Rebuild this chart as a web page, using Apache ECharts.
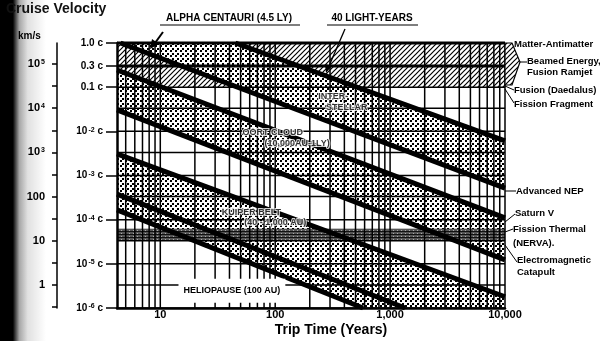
<!DOCTYPE html>
<html><head><meta charset="utf-8">
<script src="https://cdn.jsdelivr.net/npm/echarts@6/dist/echarts.min.js"></script>
<style>html,body{margin:0;padding:0;background:#fff}#c{width:612px;height:341px}</style>
</head><body><div id="c"></div><script>
// ---------------- data ----------------
const T_MIN = 4.2, T_MAX = 10000;          // trip time, years
const V_MIN = 1e-6, V_MAX = 1;             // cruise velocity, fraction of c
const C_KMS = 3e5;                         // km/s per c

const cTickValues = [1, 0.3, 0.1, 1e-2, 1e-3, 1e-4, 1e-5, 1e-6];
const cTickLabels = ['1.0 c', '0.3 c', '0.1 c', '10{s|-2} c', '10{s|-3} c', '10{s|-4} c', '10{s|-5} c', '10{s|-6} c'];
const kmsLabelValues = [1e5, 1e4, 1e3, 100, 10, 1];
const kmsLabels = ['10{s|5}', '10{s|4}', '10{s|3}', '100', '10', '1'];
const kmsTickValues = [0.316, 1, 3.16, 10, 31.6, 100, 316, 1000, 3162, 10000, 31623, 100000, 316228];
const xLabelValues = [10, 100, 1000, 10000];
const xLabels = ['10', '100', '1,000', '10,000'];
const xGridValues = [5,6,7,8,9,10,20,30,40,50,60,70,80,90,100,200,300,400,500,600,700,800,900,1000,2000,3000,4000,5000,6000,7000,8000,9000,10000];
const hGridC = [1, 0.3, 0.1, 0.01, 1e-3, 1e-4, 1e-5, 1e-6];
const hGridKms = [1e4, 1e3, 100, 10, 1];

// destination distance lines: [years, c] start / end as drawn
const lineNames = ['40 LY', '4.5 LY', '1 LY', '10,000 AU', '1,000 AU', '100 AU', '40 AU'];
const lineStart = [[45, 1], [4.5, 1], [4.2, 0.245], [4.2, 0.0305], [4.2, 3.1e-3], [4.2, 3.8e-4], [4.2, 1.66e-4]];
const lineEnd   = [[10000, 6.1e-3], [10000, 5.2e-4], [10000, 1.1e-4], [10000, 1.23e-5], [10000, 1.8e-6], [1350, 1e-6], [582, 1e-6]];

// destination regions (dotted): upper line / lower line
const regionNames = ['Interstellar', 'Oort Cloud', 'Kuiper Belt'];
const regionUpper = ['40 LY', '1 LY', '1,000 AU'];
const regionLower = ['4.5 LY', '10,000 AU', '40 AU'];

// propulsion velocity bands (hatched) [low, high] in c
const propNames = ['Matter-Antimatter', 'Beamed Energy, Fusion Ramjet'];
const propLow  = [0.3, 0.1];
const propHigh = [1, 0.3];
const nervaLow = 3.3e-5, nervaHigh = 6.2e-5;   // Fission Thermal (NERVA) band

// in-plot labels
const plotLabelText = ['INTER-', 'STELLAR', 'OORT CLOUD', '(10,000AU-1LY)', 'KUIPER BELT', '(40 - 1,000 AU)'];
const plotLabelT = [320, 420, 95, 155, 62, 100];
const plotLabelV = [0.063, 0.035, 0.0096, 5.3e-3, 1.45e-4, 8.5e-5];
const helioLabel = 'HELIOPAUSE (100 AU)';
const helioLabelPos = [42, 2.45e-6];

// ---------------- helpers ----------------
const FONT = '"Liberation Sans", Arial, Helvetica, sans-serif';
function makeDots(){
  const c = document.createElement('canvas'); c.width = 5; c.height = 5;
  const g = c.getContext('2d'); g.fillStyle = '#fff'; g.fillRect(0,0,5,5);
  g.fillStyle = '#000'; g.fillRect(0,0,2,2); g.fillRect(2,3,2,2);
  return c;
}
function makeHatch(){
  const n = 5;
  const c = document.createElement('canvas'); c.width = n; c.height = n;
  const g = c.getContext('2d'); g.fillStyle = '#fff'; g.fillRect(0,0,n,n);
  g.strokeStyle = '#000'; g.lineWidth = 1.2;
  g.beginPath(); g.moveTo(-1, n+1); g.lineTo(n+1, -1);
  g.moveTo(-1, 1); g.lineTo(1, -1); g.moveTo(n-1, n+1); g.lineTo(n+1, n-1); g.stroke();
  return c;
}
function makeNerva(){
  const c = document.createElement('canvas'); c.width = 4; c.height = 3;
  const g = c.getContext('2d'); g.fillStyle = '#555'; g.fillRect(0,0,4,3);
  g.fillStyle = '#111'; g.fillRect(0,0,4,1); g.fillStyle = '#aaa'; g.fillRect(1,2,1,1);
  return c;
}
const dotsImg = makeDots(), hatchImg = makeHatch(), nervaImg = makeNerva();

function clipPoly(poly, r){
  const x0 = r.x, x1 = r.x + r.width, y0 = r.y, y1 = r.y + r.height;
  const planes = [
    [p => p[0] >= x0, (a,b) => { const t = (x0-a[0])/(b[0]-a[0]); return [x0, a[1]+t*(b[1]-a[1])]; }],
    [p => p[0] <= x1, (a,b) => { const t = (x1-a[0])/(b[0]-a[0]); return [x1, a[1]+t*(b[1]-a[1])]; }],
    [p => p[1] >= y0, (a,b) => { const t = (y0-a[1])/(b[1]-a[1]); return [a[0]+t*(b[0]-a[0]), y0]; }],
    [p => p[1] <= y1, (a,b) => { const t = (y1-a[1])/(b[1]-a[1]); return [a[0]+t*(b[0]-a[0]), y1]; }]
  ];
  let out = poly;
  for (const [inside, inter] of planes){
    const inp = out; out = [];
    for (let i = 0; i < inp.length; i++){
      const cur = inp[i], prev = inp[(i + inp.length - 1) % inp.length];
      const ci = inside(cur), pi = inside(prev);
      if (ci){ if (!pi) out.push(inter(prev, cur)); out.push(cur); }
      else if (pi) out.push(inter(prev, cur));
    }
    if (!out.length) break;
  }
  return out;
}
function extendAt(a, b, x){ const t = (x - a[0]) / (b[0] - a[0]); return [x, a[1] + t * (b[1] - a[1])]; }

const chart = echarts.init(document.getElementById('c'), null, {renderer: 'canvas'});

function renderRegion(params, api){
  const r = params.coordSys;
  const i = params.dataIndex;
  const u = lineNames.indexOf(regionUpper[i]), l = lineNames.indexOf(regionLower[i]);
  const ua = api.coord(lineStart[u]), ub = api.coord(lineEnd[u]);
  const la = api.coord(lineStart[l]), lb = api.coord(lineEnd[l]);
  const xa = r.x - 600, xb = r.x + r.width + 600;
  const poly = clipPoly([extendAt(ua,ub,xa), extendAt(ua,ub,xb), extendAt(la,lb,xb), extendAt(la,lb,xa)], r);
  return {type: 'polygon', shape: {points: poly}, style: {fill: {image: dotsImg, repeat: 'repeat'}, stroke: null}};
}
function renderProp(params, api){
  const i = params.dataIndex;
  const p1 = api.coord([T_MIN, propHigh[i]]), p2 = api.coord([T_MAX, propLow[i]]);
  return {type: 'rect', shape: {x: p1[0], y: p1[1], width: p2[0]-p1[0], height: p2[1]-p1[1]},
          style: {fill: {image: hatchImg, repeat: 'repeat'}}};
}
function renderNerva(params, api){
  const p1 = api.coord([T_MIN, nervaHigh]), p2 = api.coord([T_MAX, nervaLow]);
  return {type: 'rect', shape: {x: p1[0], y: p1[1], width: p2[0]-p1[0], height: p2[1]-p1[1]},
          style: {fill: {image: nervaImg, repeat: 'repeat'}}};
}
function renderVGrid(params, api){
  const t = xGridValues[params.dataIndex];
  const a = api.coord([t, V_MAX]), b = api.coord([t, V_MIN]);
  return {type: 'line', shape: {x1: a[0], y1: a[1], x2: b[0], y2: b[1]}, style: {stroke: '#000', lineWidth: 1.5}};
}
const hGridAll = hGridC.concat(hGridKms.map(k => k / C_KMS));
function renderHGrid(params, api){
  const v = hGridAll[params.dataIndex];
  const a = api.coord([T_MIN, v]), b = api.coord([T_MAX, v]);
  const w = (v === 1 || v === 0.3) ? 3 : 1.5;
  return {type: 'line', shape: {x1: a[0], y1: a[1], x2: b[0], y2: b[1]}, style: {stroke: '#000', lineWidth: w}};
}

const rich = {s: {fontSize: 7, fontWeight: 'bold', fontFamily: FONT, verticalAlign: 'top', lineHeight: 8, padding: [0, 0, 0, 1]}};

const series = [
  {type: 'custom', name: 'propulsion', z: 1, data: propNames.map(() => [T_MIN, V_MIN]), renderItem: renderProp, silent: true},
  {type: 'custom', name: 'regions', z: 2, data: regionNames.map(() => [T_MIN, V_MIN]), renderItem: renderRegion, silent: true},
  {type: 'custom', name: 'nerva', z: 2, data: [[T_MIN, V_MIN]], renderItem: renderNerva, silent: true},
  {type: 'custom', name: 'vgrid', z: 3, data: xGridValues.map(() => [T_MIN, V_MIN]), renderItem: renderVGrid, silent: true},
  {type: 'custom', name: 'hgrid', z: 3, data: hGridAll.map(() => [T_MIN, V_MIN]), renderItem: renderHGrid, silent: true}
];
lineNames.forEach((n, i) => {
  series.push({type: 'line', name: n, z: 5, symbol: 'none', clip: true, silent: true,
    lineStyle: {color: '#000', width: 5, cap: 'butt'}, data: [lineStart[i], lineEnd[i]]});
});
series.push({type: 'scatter', name: 'labels', z: 8, symbolSize: 0, silent: true,
  data: plotLabelText.map((t, i) => ({value: [plotLabelT[i], plotLabelV[i]], name: t})),
  label: {show: true, position: 'inside', formatter: p => p.name, color: '#000', fontFamily: FONT, fontWeight: 'bold', fontSize: 9,
    textBorderColor: '#fff', textBorderWidth: 2}});

const txt = (x, y, text, size, extra) => Object.assign({type: 'text', x, y, z: 20,
  style: Object.assign({text, fill: '#000', font: 'bold ' + size + 'px ' + FONT, textVerticalAlign: 'middle'}, extra || {})});

chart.setOption({
  animation: false,
  backgroundColor: '#fff',
  grid: {left: 117, right: 107, top: 43, bottom: 33, containLabel: false},
  xAxis: {type: 'log', min: T_MIN, max: T_MAX, z: 10,
    axisLine: {show: true, lineStyle: {color: '#000', width: 2.5}},
    axisTick: {show: false}, splitLine: {show: false}, minorTick: {show: false},
    axisLabel: {customValues: xLabelValues, margin: 1, color: '#000', fontFamily: FONT, fontWeight: 'bold', fontSize: 11,
      formatter: v => xLabels[xLabelValues.indexOf(Math.round(v))] || ''}},
  yAxis: [
    {type: 'log', min: V_MIN, max: V_MAX, position: 'left', z: 10,
      axisLine: {show: true, lineStyle: {color: '#000', width: 2.5}},
      axisTick: {show: true, customValues: cTickValues, length: 11, lineStyle: {color: '#000', width: 1.5}},
      splitLine: {show: false},
      axisLabel: {customValues: cTickValues, margin: 14, color: '#000', fontFamily: FONT, fontWeight: 'bold', fontSize: 10, rich,
        formatter: v => { let k = -1; cTickValues.forEach((c, i) => { if (Math.abs(Math.log10(c) - Math.log10(v)) < 0.01) k = i; }); return k >= 0 ? cTickLabels[k] : ''; }}},
    {type: 'log', min: V_MIN * C_KMS, max: V_MAX * C_KMS, position: 'left', offset: 60, z: 10,
      axisLine: {show: true, lineStyle: {color: '#000', width: 1.5}},
      axisTick: {show: true, customValues: kmsTickValues, length: 5, lineStyle: {color: '#000', width: 1.5}},
      splitLine: {show: false},
      axisLabel: {customValues: kmsLabelValues, margin: 12, color: '#000', fontFamily: FONT, fontWeight: 'bold', fontSize: 11, rich,
        formatter: v => { let k = -1; kmsLabelValues.forEach((c, i) => { if (Math.abs(Math.log10(c) - Math.log10(v)) < 0.01) k = i; }); return k >= 0 ? kmsLabels[k] : ''; }}}
  ],
  series,
  graphic: [
    {type: 'rect', z: -10, shape: {x: 0, y: 0, width: 46, height: 341},
      style: {fill: new echarts.graphic.LinearGradient(0, 0, 1, 0, [
        {offset: 0, color: 'rgba(0,0,0,1)'}, {offset: 0.28, color: 'rgba(0,0,0,1)'},
        {offset: 0.42, color: 'rgba(0,0,0,0.35)'}, {offset: 0.6, color: 'rgba(0,0,0,0.12)'}, {offset: 1, color: 'rgba(0,0,0,0)'}])}},
    txt(6, 9, 'Cruise Velocity', 14, {fill: '#111'}),
    txt(18, 36, 'km/s', 10),
    txt(331, 330, 'Trip Time (Years)', 14, {textAlign: 'center'}),
    txt(229, 18, 'ALPHA CENTAURI (4.5 LY)', 10, {textAlign: 'center'}),
    {type: 'line', z: 20, shape: {x1: 160, y1: 25, x2: 300, y2: 25}, style: {stroke: '#000', lineWidth: 1.2}},
    txt(372, 18, '40 LIGHT-YEARS', 10, {textAlign: 'center'}),
    {type: 'line', z: 20, shape: {x1: 327, y1: 25, x2: 418, y2: 25}, style: {stroke: '#000', lineWidth: 1.2}},
    {type: 'line', z: 20, shape: {x1: 163, y1: 32, x2: 155, y2: 43}, style: {stroke: '#000', lineWidth: 2}},
    {type: 'polygon', z: 20, shape: {points: [[150, 49], [152, 39], [159, 44]]}, style: {fill: '#000'}},
    {type: 'line', z: 20, shape: {x1: 345, y1: 29, x2: 329, y2: 66}, style: {stroke: '#000', lineWidth: 1.3}},
    {type: 'polygon', z: 20, shape: {points: [[326, 73], [325, 64], [332, 66]]}, style: {fill: '#000'}},
    {type: 'polygon', z: 4, shape: {points: [[505, 43], [512, 43], [520, 62], [512, 85], [505, 85]]},
      style: {fill: {image: hatchImg, repeat: 'repeat'}, stroke: '#000', lineWidth: 1.2}},
    txt(514, 44, 'Matter-Antimatter', 9.5),
    {type: 'line', z: 20, shape: {x1: 520, y1: 62, x2: 527, y2: 62}, style: {stroke: '#000', lineWidth: 1}},
    txt(527, 61, 'Beamed Energy,', 9.5),
    txt(527, 72, 'Fusion Ramjet', 9.5),
    {type: 'line', z: 20, shape: {x1: 505, y1: 86, x2: 514, y2: 90}, style: {stroke: '#000', lineWidth: 1}},
    txt(514, 90, 'Fusion (Daedalus)', 9.5),
    {type: 'line', z: 20, shape: {x1: 505, y1: 89, x2: 514, y2: 103}, style: {stroke: '#000', lineWidth: 1}},
    txt(514, 104, 'Fission Fragment', 9.5),
    {type: 'line', z: 20, shape: {x1: 505, y1: 191, x2: 516, y2: 191}, style: {stroke: '#000', lineWidth: 1}},
    txt(516, 191, 'Advanced NEP', 9.5),
    {type: 'line', z: 20, shape: {x1: 505, y1: 222, x2: 515, y2: 214}, style: {stroke: '#000', lineWidth: 1}},
    txt(515, 213, 'Saturn V', 9.5),
    {type: 'line', z: 20, shape: {x1: 505, y1: 232, x2: 513, y2: 229}, style: {stroke: '#000', lineWidth: 1}},
    txt(513, 229, 'Fission Thermal', 9.5),
    txt(513, 243, '(NERVA).', 9.5),
    {type: 'line', z: 20, shape: {x1: 505, y1: 245, x2: 517, y2: 262}, style: {stroke: '#000', lineWidth: 1}},
    txt(517, 260, 'Electromagnetic', 9.5),
    txt(517, 272, 'Catapult', 9.5)
  ]
});

// Heliopause label with a white box, anchored through the axes
const hp = chart.convertToPixel({gridIndex: 0}, helioLabelPos);
chart.setOption({graphic: [{type: 'text', id: 'helio', x: hp[0], y: hp[1], z: 30,
  style: {text: helioLabel, fill: '#000', font: 'bold 9px ' + FONT, align: 'center', verticalAlign: 'middle',
    backgroundColor: '#fff', padding: [7, 5, 8, 5]}}]});
</script></body></html>
